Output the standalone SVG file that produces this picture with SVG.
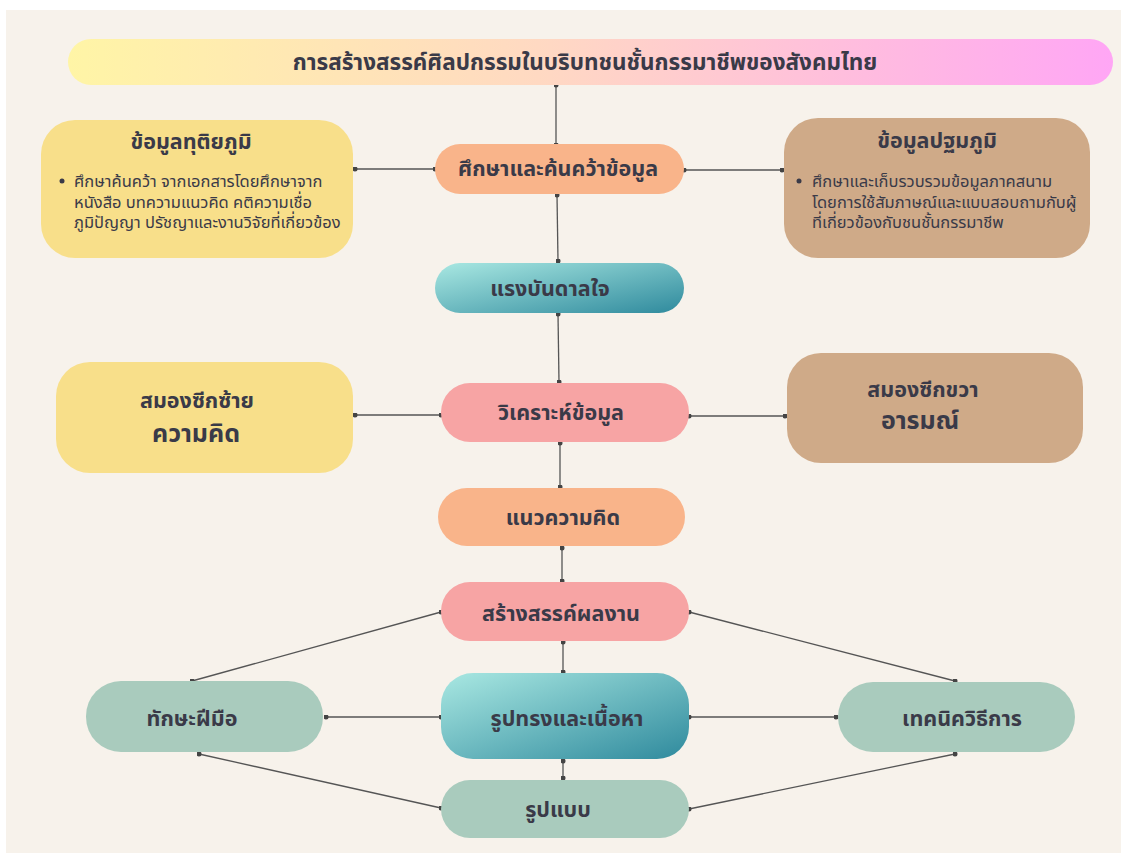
<svg xmlns="http://www.w3.org/2000/svg" width="1121" height="853" viewBox="0 0 1121 853">
<defs>
<linearGradient id="gTitle" x1="0" y1="0" x2="1" y2="0">
<stop offset="0" stop-color="#FFF5A6"/>
<stop offset="0.45" stop-color="#FFD9C2"/>
<stop offset="1" stop-color="#FFA6F5"/>
</linearGradient>
<linearGradient id="gTeal" x1="0" y1="0" x2="1" y2="1">
<stop offset="0" stop-color="#A9E8E2"/>
<stop offset="1" stop-color="#2F8A9D"/>
</linearGradient>
<marker id="dot" viewBox="0 0 6 6" refX="3" refY="3" markerWidth="5" markerHeight="5" markerUnits="userSpaceOnUse">
<circle cx="3" cy="3" r="3" fill="#444"/>
</marker>
<style>
text{font-family:"Noto Sans Thai","Noto Sans","Noto Sans CJK SC",sans-serif;fill:#3A3A48;text-anchor:middle;}
.t{font-size:22.5px;font-weight:bold;}
.h{font-size:21.5px;font-weight:bold;}
.b{font-size:16.5px;text-anchor:start;}
.big{font-size:25px;font-weight:bold;}
.c line{stroke:#555;stroke-width:1.3;marker-start:url(#dot);marker-end:url(#dot);}
.y{fill:#F8DF8A;}
.tan{fill:#CFAA88;}
.o{fill:#F9B48A;}
.p{fill:#F7A4A4;}
.g{fill:#A9CBBD;}
</style>
</defs>
<rect x="6" y="10" width="1115" height="843" fill="#F7F2EB"/>

<g id="connectors" class="c">
<line x1="556" y1="85" x2="556" y2="145"/>
<line x1="435" y1="169" x2="355" y2="169"/>
<line x1="684" y1="170" x2="782" y2="170"/>
<line x1="557" y1="195" x2="558" y2="261"/>
<line x1="558" y1="314" x2="559" y2="382"/>
<line x1="441" y1="415" x2="355" y2="415"/>
<line x1="689" y1="416" x2="785" y2="416"/>
<line x1="560" y1="443" x2="560" y2="487"/>
<line x1="562" y1="548" x2="562" y2="581"/>
<line x1="441" y1="612" x2="192" y2="681"/>
<line x1="689" y1="612" x2="955" y2="681"/>
<line x1="563" y1="642" x2="563" y2="672"/>
<line x1="441" y1="717" x2="326" y2="717"/>
<line x1="689" y1="717" x2="836" y2="717"/>
<line x1="563" y1="761" x2="563" y2="778"/>
<line x1="199" y1="754" x2="441" y2="808"/>
<line x1="955" y1="754" x2="689" y2="809"/>
</g>

<g id="title">
<rect x="68" y="39" width="1045" height="46" rx="23" fill="url(#gTitle)"/>
<text x="585" y="70" class="t">การสร้างสรรค์ศิลปกรรมในบริบทชนชั้นกรรมาชีพของสังคมไทย</text>
</g>

<g id="study">
<rect x="435" y="144" width="249" height="50" rx="25" class="o"/>
<text x="558" y="176" class="h">ศึกษาและค้นคว้าข้อมูล</text>
</g>

<g id="secondary">
<rect x="41" y="120" width="312" height="138" rx="34" class="y"/>
<text x="191" y="149" class="h">ข้อมูลทุติยภูมิ</text>
<circle cx="62" cy="181" r="2.5" fill="#3A3A48"/>
<text x="74" y="187" class="b">ศึกษาค้นคว้า จากเอกสารโดยศึกษาจาก</text>
<text x="74" y="207.5" class="b">หนังสือ บทความแนวคิด คติความเชื่อ</text>
<text x="74" y="228" class="b">ภูมิปัญญา ปรัชญาและงานวิจัยที่เกี่ยวข้อง</text>
</g>

<g id="primary">
<rect x="784" y="118" width="306" height="140" rx="34" class="tan"/>
<text x="937" y="148" class="h">ข้อมูลปฐมภูมิ</text>
<circle cx="799" cy="181" r="2.5" fill="#3A3A48"/>
<text x="812" y="187" class="b">ศึกษาและเก็บรวบรวมข้อมูลภาคสนาม</text>
<text x="812" y="207.5" class="b">โดยการใช้สัมภาษณ์และแบบสอบถามกับผู้</text>
<text x="812" y="228" class="b">ที่เกี่ยวข้องกับชนชั้นกรรมาชีพ</text>
</g>

<g id="inspiration">
<rect x="435" y="263" width="249" height="50" rx="25" fill="url(#gTeal)"/>
<text x="550" y="296" class="h">แรงบันดาลใจ</text>
</g>

<g id="analysis">
<rect x="441" y="383" width="248" height="59" rx="29" class="p"/>
<text x="561" y="420" class="h">วิเคราะห์ข้อมูล</text>
</g>

<g id="leftbrain">
<rect x="56" y="362" width="297" height="111" rx="34" class="y"/>
<text x="197" y="408" class="h">สมองซีกซ้าย</text>
<text x="196" y="442" class="big">ความคิด</text>
</g>

<g id="rightbrain">
<rect x="787" y="353" width="296" height="110" rx="34" class="tan"/>
<text x="923" y="397" class="h">สมองซีกขวา</text>
<text x="920" y="429" class="big">อารมณ์</text>
</g>

<g id="concept">
<rect x="438" y="488" width="247" height="58" rx="29" class="o"/>
<text x="563" y="525" class="h">แนวความคิด</text>
</g>

<g id="create">
<rect x="441" y="582" width="248" height="59" rx="29" class="p"/>
<text x="561" y="621" class="h">สร้างสรรค์ผลงาน</text>
</g>

<g id="formcontent">
<rect x="441" y="673" width="248" height="86" rx="32" fill="url(#gTeal)"/>
<text x="567" y="726" class="h">รูปทรงและเนื้อหา</text>
</g>

<g id="skill">
<rect x="86" y="681" width="237" height="71" rx="35" class="g"/>
<text x="192" y="726" class="h">ทักษะฝีมือ</text>
</g>

<g id="technique">
<rect x="838" y="682" width="237" height="70" rx="35" class="g"/>
<text x="962" y="726" class="h">เทคนิควิธีการ</text>
</g>

<g id="style">
<rect x="441" y="780" width="248" height="58" rx="29" class="g"/>
<text x="558" y="817" class="h">รูปแบบ</text>
</g>
</svg>
